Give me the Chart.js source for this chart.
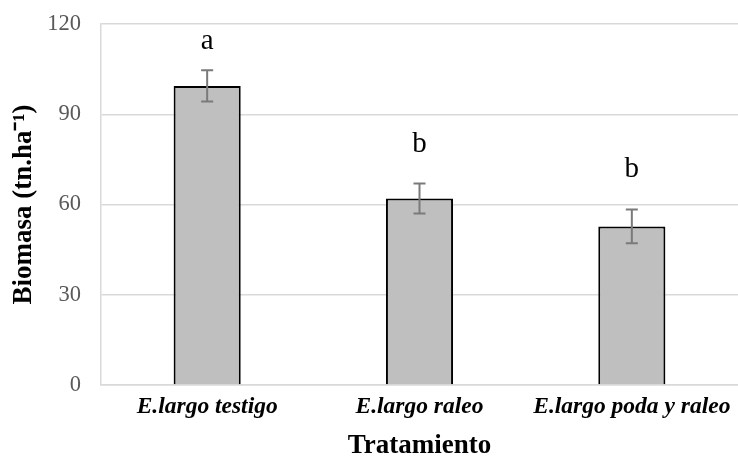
<!DOCTYPE html>
<html>
<head>
<meta charset="utf-8">
<script src="https://cdn.jsdelivr.net/npm/chart.js@4/dist/chart.umd.min.js"></script>
<style>
html,body{margin:0;padding:0;background:#fff;}
#wrap{width:738px;height:462px;position:relative;}
</style>
</head>
<body>
<div id="wrap"><canvas id="c"></canvas></div>
<script>
const categories = ['E.largo testigo', 'E.largo raleo', 'E.largo poda y raleo'];
const biomasa = [99.4, 62.0, 52.7];
const errores = [5.2, 5.0, 5.6];
const letras = ['a', 'b', 'b'];
const letraNivel = [111.7, 77.6, 69.3];
const yTicks = [0, 30, 60, 90, 120];

const serif = "'Liberation Serif', 'Times New Roman', serif";

const errorBars = {
  id: 'errorBars',
  afterDatasetsDraw(chart) {
    const ctx = chart.ctx;
    const meta = chart.getDatasetMeta(0);
    const y = chart.scales.y;
    ctx.save();
    ctx.strokeStyle = '#7a7a7a';
    ctx.lineWidth = 2;
    meta.data.forEach((bar, i) => {
      const x = bar.x;
      const top = y.getPixelForValue(biomasa[i] + errores[i]);
      const bot = y.getPixelForValue(biomasa[i] - errores[i]);
      ctx.beginPath();
      ctx.moveTo(x, top); ctx.lineTo(x, bot);
      ctx.moveTo(x - 6, top); ctx.lineTo(x + 6, top);
      ctx.moveTo(x - 6, bot); ctx.lineTo(x + 6, bot);
      ctx.stroke();
      ctx.fillStyle = '#000';
      ctx.font = "29px " + serif;
      ctx.textAlign = 'center';
      ctx.textBaseline = 'alphabetic';
      ctx.fillText(letras[i], x, y.getPixelForValue(letraNivel[i]));
    });
    ctx.restore();
  }
};

new Chart(document.getElementById('c'), {
  type: 'bar',
  data: {
    labels: categories,
    datasets: [{
      data: biomasa,
      backgroundColor: '#bfbfbf',
      borderColor: '#000',
      borderWidth: 2,
      categoryPercentage: 1,
      barPercentage: 0.316
    }]
  },
  options: {
    responsive: true,
    maintainAspectRatio: false,
    animation: false,
    layout: { padding: { top: 24, right: 0, left: 0, bottom: 0 } },
    plugins: { legend: { display: false }, tooltip: { enabled: false } },
    scales: {
      x: {
        grid: { display: false, drawTicks: false },
        border: { display: true, color: '#d9d9d9', width: 1.5 },
        ticks: {
          color: '#000',
          padding: 8,
          font: { family: serif, size: 23.5, style: 'italic', weight: 'bold' }
        },
        title: {
          display: true,
          text: 'Tratamiento',
          color: '#000',
          padding: { top: 4, bottom: 0 },
          font: { family: serif, size: 27, weight: 'bold' }
        },
        afterFit(s) { s.height = 77; s.paddingLeft = 0; s.paddingRight = 0; }
      },
      y: {
        min: 0, max: 120,
        afterBuildTicks(s) { s.ticks = yTicks.map(v => ({ value: v })); },
        grid: { color: '#d9d9d9', lineWidth: 1.5, drawTicks: false },
        border: { display: true, color: '#d9d9d9', width: 1.5 },
        ticks: {
          color: '#595959',
          padding: 20,
          font: { family: serif, size: 22.5 }
        },
        title: {
          display: true,
          text: 'Biomasa (tn.ha⁻¹)',
          color: '#000',
          padding: { top: 8, bottom: 0 },
          font: { family: serif, size: 27, weight: 'bold' }
        },
        afterFit(s) { s.width = 101; s.paddingTop = 0; s.paddingBottom = 0; }
      }
    }
  },
  plugins: [errorBars]
});
</script>
</body>
</html>
